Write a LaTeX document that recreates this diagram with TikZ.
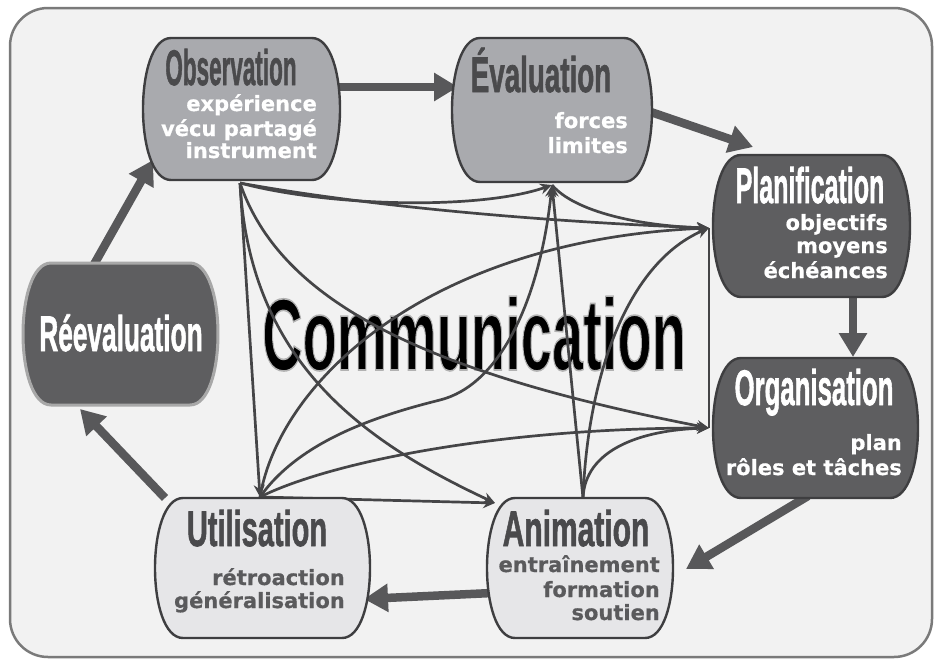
\documentclass[tikz,border=0pt]{standalone}
\usepackage{fontspec}
\usetikzlibrary{arrows.meta,calc}
\newfontfamily\ttlfont{Liberation Sans}[UprightFeatures={FakeBold=1.6}, BoldFeatures={FakeBold=1.6}]
\newfontfamily\subfont{DejaVu Sans}[BoldFeatures={FakeBold=0.6}]
\definecolor{frameC}{HTML}{7A7A7A}
\definecolor{bgC}{HTML}{F2F2F2}
\definecolor{midC}{HTML}{A9AAAE}
\definecolor{darkC}{HTML}{5E5E60}
\definecolor{lightC}{HTML}{E6E6E8}
\definecolor{edgeC}{HTML}{3E3E40}
\definecolor{ttlC}{HTML}{4A4A4C}
\definecolor{subC}{HTML}{5A5A5C}
\definecolor{arrC}{HTML}{58585A}
\definecolor{netC}{HTML}{454547}
\definecolor{glowC}{HTML}{A8A8A8}
\newcommand\Ttl[2]{\scalebox{#1}[1]{\ttlfont\bfseries #2}}
\newcommand\OutlineTxt[1]{\special{pdf:literal direct 2 Tr 2.4 w 0.7 0.7 0.7 RG}#1\special{pdf:literal direct 0 Tr}}
\newcommand\Blob[4]{%
  \path[fill=#2, draw=#3, line width=#4]
    ($(#1.north west)+(28,0)$) -- ($(#1.north east)+(-28,0)$)
    .. controls ($(#1.north east)+(9.33,0)$) and ($(#1.south east)+(9.33,0)$) .. ($(#1.south east)+(-28,0)$)
    -- ($(#1.south west)+(28,0)$)
    .. controls ($(#1.south west)+(-9.33,0)$) and ($(#1.north west)+(-9.33,0)$) .. cycle;}
\tikzset{
  area/.style={draw=none, inner sep=0, outer sep=0},
  ttl/.style={anchor=base, inner sep=0, font=\fontsize{50}{54}\selectfont},
  sub/.style={anchor=base east, inner sep=0, font=\subfont\bfseries\fontsize{21}{24}\selectfont},
  thick arrow/.style={draw=arrC, line width=8.5pt, -{Triangle[length=24pt,width=27pt]}},
  net/.style={draw=netC, line width=2.7pt},
  neta/.style={net, -{Stealth[length=12pt,width=11pt]}},
  commtext/.style={anchor=base, inner sep=0, font=\fontsize{102}{110}\selectfont},
}
\begin{document}
\begin{tikzpicture}[x=1pt,y=-1pt]
\useasboundingbox (0,0) rectangle (940,664);
\fill[white] (0,0) rectangle (940,664);
\draw[draw=frameC, fill=bgC, line width=2.5pt, rounded corners=38pt] (10,8) rectangle (932,657);

% areas of the boxes
\node[area, minimum width=197pt, minimum height=142pt] (obs) at (241.5,109) {};
\node[area, minimum width=200pt, minimum height=144pt] (eva) at (552,110) {};
\node[area, minimum width=197pt, minimum height=142pt] (pla) at (811.5,226) {};
\node[area, minimum width=205pt, minimum height=140pt] (org) at (815.5,428) {};
\node[area, minimum width=195pt, minimum height=142pt] (ree) at (120.5,334) {};
\node[area, minimum width=215pt, minimum height=140pt] (uti) at (262.5,568) {};
\node[area, minimum width=186pt, minimum height=140pt] (ani) at (580,568) {};

% network points
\coordinate (O0) at (240,183);
\coordinate (E0) at (552,185);
\coordinate (P0) at (709,228);
\coordinate (G0) at (709,428);
\coordinate (U0) at (260,497);
\coordinate (A0) at (495,503);
\coordinate (A1) at (583,498);

% communication text
\node[commtext, text=black] (comm) at (474,370) {\Ttl{0.55}{\OutlineTxt{Communication}}};

% network
\draw[neta] (O0) .. controls (330,207) and (480,210) .. (E0);
\draw[neta] (O0) .. controls (400,212) and (600,224) .. (P0);
\draw[neta] (O0) .. controls (280,300) and (420,372) .. (G0);
\draw[neta] (O0) .. controls (250,360) and (360,440) .. (A0);
\draw[neta] (O0) -- (U0);
\draw[neta] (U0) .. controls (280,380) and (430,240) .. (P0);
\draw[net] (U0) .. controls (300,440) and (380,415) .. (440,400) coordinate (UEm);
\draw[neta] (UEm) .. controls (500,385) and (540,300) .. (E0);
\draw[neta] (U0) .. controls (330,462) and (500,428) .. (G0);
\draw[neta] (U0) -- (A0);
\draw[neta] (A1) -- (E0);
\draw[neta] (A1) .. controls (588,370) and (630,262) .. (P0);
\draw[neta] (A1) .. controls (585,450) and (640,430) .. (G0);
\draw[neta] (E0) .. controls (575,212) and (640,226) .. (P0);
\draw[net] (P0) -- (G0);

% thick arrows
\coordinate (obsR) at (330,87);
\coordinate (evaL) at (458,87);
\coordinate (evaR) at (645,110);
\coordinate (plaT) at (753,147);
\coordinate (plaB) at (853,290);
\coordinate (orgT) at (853,357);
\coordinate (orgB) at (808,496);
\coordinate (aniR) at (686,569);
\coordinate (aniL) at (492,593);
\coordinate (utiR) at (364,599);
\coordinate (utiT) at (165,498);
\coordinate (reeB) at (80,409);
\coordinate (reeT) at (92,268);
\coordinate (obsL) at (153,160);
\draw[thick arrow] (obsR) -- (evaL);
\draw[thick arrow] (evaR) -- (plaT);
\draw[thick arrow] (plaB) -- (orgT);
\draw[thick arrow] (orgB) -- (aniR);
\draw[thick arrow] (aniL) -- (utiR);
\draw[thick arrow] (utiT) -- (reeB);
\draw[thick arrow] (reeT) -- (obsL);

% boxes
\Blob{obs}{midC}{edgeC}{2.4pt}
\Blob{eva}{midC}{edgeC}{2.4pt}
\Blob{pla}{darkC}{edgeC}{2.4pt}
\Blob{org}{darkC}{edgeC}{2.4pt}
\Blob{ree}{darkC}{glowC}{3pt}
\Blob{uti}{lightC}{edgeC}{2.4pt}
\Blob{ani}{lightC}{edgeC}{2.4pt}

% titles
\node[ttl, text=ttlC] (obsT) at (231,85) {\Ttl{0.45}{Observation}};
\node[ttl, text=ttlC] (evaT) at (541,92) {\Ttl{0.555}{Évaluation}};
\node[ttl, text=white] (plaT2) at (810,203) {\Ttl{0.50}{Planification}};
\node[ttl, text=white] (orgT2) at (814,405) {\Ttl{0.515}{Organisation}};
\node[ttl, text=white] (reeT2) at (121,351) {\Ttl{0.525}{Réevaluation}};
\node[ttl, text=ttlC] (utiT2) at (257,546) {\Ttl{0.58}{Utilisation}};
\node[ttl, text=ttlC] (aniT2) at (576,546) {\Ttl{0.60}{Animation}};

% sub texts
\node[sub, text=white] (obs1) at (317,111) {expérience};
\node[sub, text=white] (obs2) at (317,136) {vécu partagé};
\node[sub, text=white] (obs3) at (317,158) {instrument};
\node[sub, text=white] (eva1) at (628,128) {forces};
\node[sub, text=white] (eva2) at (628,153) {limites};
\node[sub, text=white] (pla1) at (888,230) {objectifs};
\node[sub, text=white] (pla2) at (888,253) {moyens};
\node[sub, text=white] (pla3) at (888,278) {échéances};
\node[sub, text=white] (org1) at (902,450) {plan};
\node[sub, text=white] (org2) at (902,475) {rôles et tâches};
\node[sub, text=subC] (uti1) at (345,585) {rétroaction};
\node[sub, text=subC] (uti2) at (345,608) {généralisation};
\node[sub, text=subC] (ani1) at (660,572) {entraînement};
\node[sub, text=subC] (ani2) at (660,597) {formation};
\node[sub, text=subC] (ani3) at (660,620) {soutien};
\end{tikzpicture}
\end{document}
